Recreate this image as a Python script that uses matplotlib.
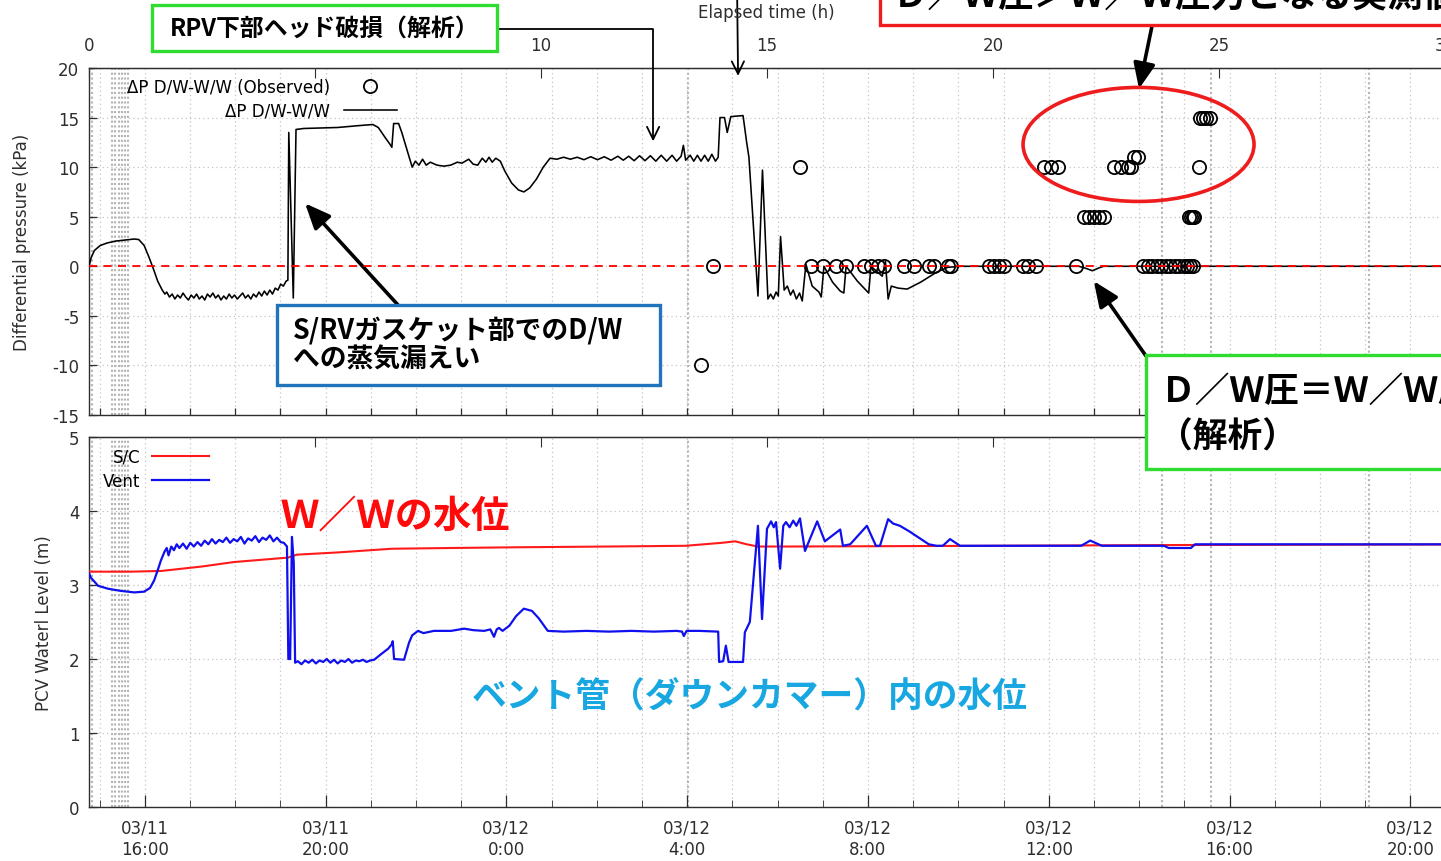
"""Two-panel plot: D/W - W/W differential pressure and PCV water level vs. time."""

import matplotlib

matplotlib.use("Agg")

import matplotlib.pyplot as plt
import numpy as np
from matplotlib.patches import Ellipse, Rectangle

plt.rcParams["axes.unicode_minus"] = False

W_PX, H_PX = 1441, 862
PX_PER_HOUR = 45.2
X_MAX = 32.0
T0_CLOCK = 14 + 46 / 60  # elapsed time origin: 03/11 14:46

JP = ["Noto Sans CJK JP", "DejaVu Sans"]
INK = "#2e2e2e"
FS = 12

# ---- data (elapsed hours, value) ----
DP_ANALYSIS = [
    (0.00, 0.0), (0.05, 0.9), (0.12, 1.6), (0.25, 2.1), (0.40, 2.35), (0.60, 2.55),
    (0.80, 2.65), (1.00, 2.75), (1.10, 2.70), (1.22, 2.1), (1.32, 1.0), (1.42, -0.2),
    (1.52, -1.5), (1.62, -2.4), (1.68, -2.8), (1.72, -2.6), (1.78, -3.1), (1.84, -2.8),
    (1.90, -3.3), (1.96, -2.9), (2.02, -3.2), (2.08, -2.7), (2.14, -3.1), (2.20, -3.4),
    (2.26, -2.9), (2.32, -3.2), (2.38, -2.8), (2.44, -3.3), (2.50, -3.0), (2.56, -3.4),
    (2.62, -2.8), (2.68, -3.1), (2.74, -2.7), (2.80, -3.2), (2.86, -2.9), (2.92, -3.4),
    (2.98, -3.0), (3.04, -3.3), (3.10, -2.8), (3.16, -3.2), (3.22, -2.9), (3.28, -3.3),
    (3.34, -3.0), (3.40, -2.7), (3.46, -3.2), (3.52, -2.9), (3.58, -3.3), (3.64, -2.8),
    (3.70, -3.1), (3.76, -2.6), (3.82, -3.0), (3.88, -2.5), (3.94, -2.9), (4.00, -2.4),
    (4.06, -2.8), (4.12, -2.2), (4.18, -2.4), (4.24, -1.8), (4.30, -2.0), (4.36, -1.5),
    (4.40, -1.4), (4.42, 13.5), (4.52, -3.2), (4.58, 13.8), (4.75, 13.9), (5.50, 14.0),
    (6.00, 14.2), (6.28, 14.3), (6.40, 14.0), (6.55, 13.0), (6.66, 12.3), (6.70, 12.0),
    (6.74, 14.4), (6.85, 14.4), (6.92, 13.5), (7.05, 11.5), (7.15, 10.0), (7.22, 10.6),
    (7.30, 10.2), (7.38, 10.8), (7.46, 10.2), (7.55, 10.5), (7.70, 10.2), (7.85, 10.1),
    (8.00, 10.2), (8.15, 10.5), (8.25, 10.4), (8.40, 10.8), (8.50, 10.3), (8.60, 10.2),
    (8.70, 10.9), (8.78, 10.5), (8.85, 11.0), (8.92, 10.5), (9.00, 10.9), (9.10, 10.6),
    (9.20, 9.6), (9.35, 8.4), (9.50, 7.7), (9.62, 7.5), (9.75, 7.9), (9.90, 8.8),
    (10.05, 10.0), (10.20, 10.9), (10.35, 10.8), (10.50, 11.0), (10.65, 10.8),
    (10.80, 11.0), (10.95, 10.75), (11.10, 11.05), (11.25, 10.75), (11.40, 11.05),
    (11.55, 10.7), (11.70, 11.1), (11.82, 10.7), (11.94, 11.1), (12.06, 10.65),
    (12.18, 11.15), (12.30, 10.65), (12.42, 11.15), (12.54, 10.6), (12.66, 11.2),
    (12.78, 10.6), (12.90, 11.2), (13.00, 10.6), (13.10, 11.1), (13.15, 12.2),
    (13.20, 10.7), (13.30, 11.2), (13.38, 10.6), (13.46, 11.2), (13.54, 10.6),
    (13.62, 11.2), (13.70, 10.6), (13.78, 11.3), (13.86, 10.6), (13.92, 11.0),
    (13.96, 15.0), (14.06, 15.0), (14.12, 13.5), (14.20, 15.1), (14.47, 15.2),
    (14.55, 12.5), (14.60, 11.0), (14.70, 4.0), (14.80, -3.0), (14.90, 9.7),
    (15.02, -3.3), (15.08, -2.8), (15.14, -3.3), (15.20, -2.6), (15.25, -3.0),
    (15.30, 3.0), (15.38, -2.4), (15.45, -2.0), (15.52, -2.9), (15.58, -2.4),
    (15.65, -3.3), (15.72, -2.7), (15.78, -3.5), (15.86, 0.2), (16.00, -2.0),
    (16.15, -2.6), (16.20, -3.1), (16.26, 0.0), (16.45, -1.6), (16.62, -2.5),
    (16.70, -2.7), (16.75, 0.0), (17.00, -1.5), (17.25, -2.7), (17.30, 0.0),
    (17.55, -1.0), (17.62, 0.5), (17.68, -3.3), (17.75, -2.0), (17.90, -2.2),
    (18.10, -2.3), (18.40, -1.6), (18.75, -0.6), (19.00, -0.1), (19.30, 0.0),
    (21.90, 0.0), (22.05, -0.2), (22.20, -0.45), (22.35, -0.15), (22.45, 0.0),
    (32.00, 0.0),
]

OBS_HOURS = [
    13.54, 13.81, 15.73, 15.97, 16.24, 16.53, 16.75, 17.15, 17.30, 17.46, 17.59,
    18.03, 18.25, 18.58, 18.69, 19.00, 19.07, 19.91, 20.02, 20.13, 20.24, 20.66,
    20.77, 20.95, 21.13, 21.28, 21.44, 21.84, 22.01, 22.12, 22.23, 22.35, 22.46,
    22.68, 22.83, 22.99, 23.05, 23.12, 23.21, 23.32, 23.42, 23.52, 23.62, 23.72,
    23.82, 23.92, 24.02, 24.12, 24.22, 24.30, 24.36, 24.42, 24.33, 24.38, 24.42,
    24.45, 24.56, 24.58, 24.65, 24.72, 24.80,
]
OBS_KPA = [
    -10, 0, 10, 0, 0, 0, 0, 0, 0, 0, 0,
    0, 0, 0, 0, 0, 0, 0, 0, 0, 0, 0,
    0, 0, 10, 10, 10, 0, 5, 5, 5, 5, 5,
    10, 10, 10, 10, 11, 11, 0, 0, 0, 0, 0,
    0, 0, 0, 0, 0, 0, 0, 0, 5, 5, 5,
    5, 10, 15, 15, 15, 15,
]

SC_LEVEL = [
    (0.0, 3.18), (0.9, 3.18), (1.6, 3.19), (2.5, 3.25), (3.2, 3.31), (4.0, 3.35),
    (4.4, 3.37), (4.6, 3.41), (5.5, 3.44), (6.7, 3.49), (8.0, 3.50), (9.5, 3.51),
    (11.5, 3.52), (13.2, 3.53), (13.6, 3.55), (14.0, 3.57), (14.3, 3.59),
    (14.55, 3.55), (14.8, 3.52), (15.5, 3.52), (20.0, 3.53), (24.0, 3.54), (32.0, 3.55),
]

VENT_LEVEL = [
    (0.00, 3.16), (0.04, 3.10), (0.20, 2.99), (0.42, 2.95), (0.71, 2.92), (1.00, 2.90),
    (1.22, 2.91), (1.35, 2.96), (1.44, 3.06), (1.52, 3.20), (1.59, 3.33), (1.67, 3.45),
    (1.72, 3.50), (1.76, 3.40), (1.82, 3.52), (1.88, 3.47), (1.94, 3.55), (2.00, 3.50),
    (2.08, 3.56), (2.16, 3.49), (2.24, 3.57), (2.32, 3.52), (2.40, 3.58), (2.48, 3.53),
    (2.56, 3.60), (2.64, 3.55), (2.72, 3.62), (2.80, 3.56), (2.88, 3.61), (2.96, 3.58),
    (3.04, 3.64), (3.12, 3.57), (3.20, 3.62), (3.28, 3.59), (3.36, 3.65), (3.44, 3.56),
    (3.52, 3.63), (3.60, 3.60), (3.68, 3.66), (3.76, 3.58), (3.84, 3.64), (3.92, 3.61),
    (4.00, 3.67), (4.08, 3.59), (4.16, 3.64), (4.24, 3.58), (4.31, 3.57), (4.38, 3.52),
    (4.41, 2.00), (4.45, 2.00), (4.49, 3.65), (4.53, 3.30), (4.56, 1.95), (4.62, 1.97),
    (4.70, 1.93), (4.78, 1.98), (4.86, 1.95), (4.94, 1.99), (5.02, 1.94), (5.10, 1.98),
    (5.18, 1.96), (5.26, 2.00), (5.34, 1.95), (5.42, 1.99), (5.50, 1.94), (5.58, 1.98),
    (5.66, 1.96), (5.74, 2.00), (5.82, 1.95), (5.90, 1.98), (5.98, 1.97), (6.06, 1.99),
    (6.14, 1.96), (6.22, 1.98), (6.31, 1.99), (6.45, 2.06), (6.62, 2.14), (6.70, 2.20),
    (6.72, 2.24), (6.75, 2.00), (6.97, 1.99), (7.08, 2.22), (7.15, 2.32), (7.28, 2.38),
    (7.40, 2.35), (7.63, 2.38), (8.01, 2.38), (8.30, 2.41), (8.50, 2.39), (8.74, 2.38),
    (8.88, 2.40), (8.96, 2.30), (9.02, 2.40), (9.07, 2.42), (9.15, 2.38), (9.30, 2.45),
    (9.45, 2.58), (9.62, 2.68), (9.80, 2.65), (9.95, 2.55), (10.15, 2.38), (10.5, 2.37),
    (11.0, 2.38), (11.5, 2.37), (12.0, 2.38), (12.5, 2.37), (13.0, 2.38), (13.12, 2.37),
    (13.16, 2.31), (13.22, 2.38), (13.5, 2.38), (13.92, 2.37), (13.94, 1.96),
    (14.03, 1.97), (14.09, 2.18), (14.15, 1.96), (14.47, 1.96), (14.51, 2.36),
    (14.62, 2.50), (14.80, 3.80), (14.89, 2.54), (15.00, 3.76), (15.09, 3.86),
    (15.15, 3.78), (15.20, 3.85), (15.29, 3.22), (15.36, 3.80), (15.42, 3.85),
    (15.50, 3.78), (15.58, 3.87), (15.65, 3.80), (15.73, 3.90), (15.84, 3.46),
    (16.11, 3.86), (16.28, 3.59), (16.62, 3.75), (16.68, 3.53), (16.84, 3.55),
    (17.21, 3.80), (17.41, 3.53), (17.50, 3.53), (17.68, 3.89), (17.79, 3.83),
    (17.94, 3.80), (18.16, 3.72), (18.58, 3.55), (18.75, 3.53), (18.89, 3.53),
    (19.05, 3.62), (19.27, 3.53), (21.95, 3.53), (22.15, 3.60), (22.41, 3.53),
    (23.78, 3.53), (23.89, 3.50), (24.38, 3.50), (24.47, 3.55), (32.0, 3.55),
]

# vertical event markers (elapsed hours)
EVENT_HOURS = [0.07, 0.51, 0.58, 0.66, 0.73, 0.80, 0.86, 13.25, 23.74, 24.82, 28.32]

ELAPSED_TICKS = [0, 5, 10, 15, 20, 25, 30]
DATE_CLOCK = [16, 20, 24, 28, 32, 36, 40, 44]
DATE_LABELS = ["03/11\n16:00", "03/11\n20:00", "03/12\n0:00", "03/12\n4:00",
               "03/12\n8:00", "03/12\n12:00", "03/12\n16:00", "03/12\n20:00"]


def fx(x):
    return x / W_PX


def fy(y):
    return 1 - y / H_PX


def style_axes(ax):
    for side in ("left", "top", "bottom"):
        ax.spines[side].set_color(INK)
        ax.spines[side].set_linewidth(1.0)
    ax.spines["right"].set_visible(False)
    ax.tick_params(direction="in", colors=INK, labelsize=FS, width=0.9)
    ax.tick_params(axis="y", length=6, pad=7)
    for h in EVENT_HOURS:
        ax.axvline(h, color="#b4b4b4", lw=1.5, ls=(0, (1, 1.3)), zorder=1)


def main():
    dp = np.array(DP_ANALYSIS)
    sc = np.array(SC_LEVEL)
    vent = np.array(VENT_LEVEL)
    hour_ticks = np.arange(15, 47) - T0_CLOCK
    date_ticks = np.array(DATE_CLOCK) - T0_CLOCK

    fig = plt.figure(figsize=(W_PX / 100, H_PX / 100), dpi=100)
    width = X_MAX * PX_PER_HOUR / W_PX
    ax1 = fig.add_axes([fx(89), fy(416), width, (416 - 69) / H_PX])
    ax2 = fig.add_axes([fx(89), fy(808), width, (808 - 438) / H_PX])

    grid_kw = dict(color="#c4c4c4", lw=0.9, ls=(0, (1, 2.5)))

    # ---- upper panel: differential pressure ----
    style_axes(ax1)
    ax1.set_xlim(0, X_MAX)
    ax1.set_ylim(-15, 20)
    ax1.set_yticks(range(-15, 21, 5))
    ax1.set_xticks(hour_ticks)
    ax1.tick_params(axis="x", labelbottom=False, length=5)
    ax1.grid(True, **grid_kw)

    ax1.plot(dp[:, 0], dp[:, 1], color="black", lw=1.15, zorder=3,
             label="ΔP D/W-W/W")
    ax1.plot(OBS_HOURS, OBS_KPA, ls="none", marker="o", ms=9.5, mfc="none",
             mec="black", mew=1.3, zorder=4, label="ΔP D/W-W/W (Observed)")
    ax1.axhline(0, color="red", lw=1.3, ls=(0, (4.5, 3.5)), zorder=5)

    sec1 = ax1.secondary_xaxis("top")
    sec1.set_xticks(ELAPSED_TICKS)
    sec1.tick_params(direction="in", length=7, pad=10, colors=INK, labelsize=FS)
    sec1.spines["top"].set_color(INK)

    handles, labels = ax1.get_legend_handles_labels()
    ax1.legend(handles[::-1], labels[::-1], loc="upper right", markerfirst=False,
               frameon=False, fontsize=FS, handlelength=3.2, handletextpad=0.8,
               labelspacing=0.35, borderpad=0, borderaxespad=0,
               bbox_to_anchor=(fx(397), fy(79)), bbox_transform=fig.transFigure)

    ax1.add_patch(Ellipse((23.22, 12.29), 5.11, 11.5, fill=False,
                          edgecolor="#ee1c1c", lw=2.6, zorder=6))

    # ---- lower panel: water levels ----
    style_axes(ax2)
    ax2.set_xlim(0, X_MAX)
    ax2.set_ylim(0, 5)
    ax2.set_yticks(range(0, 6))
    ax2.set_xticks(date_ticks)
    ax2.set_xticklabels(DATE_LABELS, linespacing=1.3)
    ax2.set_xticks(hour_ticks, minor=True)
    ax2.tick_params(axis="x", which="major", length=9, pad=8)
    ax2.tick_params(axis="x", which="minor", length=5, direction="in", colors=INK)
    ax2.grid(True, which="major", **grid_kw)
    ax2.grid(True, which="minor", axis="x", **grid_kw)

    ax2.plot(sc[:, 0], sc[:, 1], color="#ff1a1a", lw=1.5, zorder=3, label="S/C")
    ax2.plot(vent[:, 0], vent[:, 1], color="#1010ee", lw=1.6, zorder=4, label="Vent")
    ax2.legend(loc="upper right", markerfirst=False, frameon=False, fontsize=FS,
               handlelength=3.4, handletextpad=0.7, labelspacing=0.35, borderpad=0,
               borderaxespad=0, bbox_to_anchor=(fx(209), fy(449)),
               bbox_transform=fig.transFigure)

    sec2 = ax2.secondary_xaxis("top")
    sec2.set_xticks(ELAPSED_TICKS)
    sec2.set_xticklabels([""] * len(ELAPSED_TICKS))
    sec2.tick_params(direction="in", length=7, colors=INK)
    sec2.spines["top"].set_color(INK)

    # ---- axis titles ----
    fig.text(fx(766), fy(13), "Elapsed time (h)", ha="center", va="center",
             fontsize=FS, color=INK)
    fig.text(fx(22), fy(242), "Differential pressure (kPa)", rotation=90,
             ha="center", va="center", fontsize=FS, color=INK)
    fig.text(fx(44), fy(623), "PCV Waterl Level (m)", rotation=90,
             ha="center", va="center", fontsize=FS, color=INK)

    # ---- callout boxes ----
    def box(x0, y0, x1, y1, color):
        fig.add_artist(Rectangle((fx(x0), fy(y1)), fx(x1) - fx(x0), fy(y0) - fy(y1),
                                 transform=fig.transFigure, facecolor="white",
                                 edgecolor=color, lw=2.4, zorder=5))

    def jp_text(x, y, s, size, color="black"):
        fig.text(fx(x), fy(y), s, ha="left", va="center", fontsize=size,
                 fontweight="bold", family=JP, color=color, zorder=6)

    green = "#2fdc2f"
    box(152, 6, 497, 52, green)
    jp_text(170, 29, "RPV下部ヘッド破損（解析）", 17.2)

    box(880, -60, 1470, 26, "#ee1c1c")
    jp_text(893, -4, "Ｄ／Ｗ圧＞Ｗ／Ｗ圧力となる実測値", 25.5)

    box(277, 306, 660, 386, "#1f74bb")
    jp_text(293, 331, "S/RVガスケット部でのD/W", 19.3)
    jp_text(293, 359, "への蒸気漏えい", 19.3)

    box(1146, 356, 1470, 470, green)
    jp_text(1161, 391, "Ｄ／Ｗ圧＝Ｗ／Ｗ圧", 25)
    jp_text(1158, 437, "（解析）", 25)

    jp_text(281, 517, "Ｗ／Ｗの水位", 27.5, color="#ff0a0a")
    jp_text(472, 697, "ベント管（ダウンカマー）内の水位", 25, color="#18a7e0")

    # ---- arrows ----
    thin = dict(arrowstyle="->,head_length=0.45,head_width=0.22", color="black",
                lw=1.3, shrinkA=0, shrinkB=0, mutation_scale=20)
    thick = dict(arrowstyle="-|>,head_length=0.7,head_width=0.3", color="black",
                 lw=2.6, shrinkA=0, shrinkB=0, mutation_scale=22)

    ax1.annotate("", xy=(12.48, 12.6), xytext=(fx(497), fy(30)),
                 textcoords="figure fraction", annotation_clip=False,
                 arrowprops=dict(thin, connectionstyle="angle,angleA=0,angleB=90,rad=0"))
    ax1.annotate("", xy=(14.36, 19.2), xytext=(fx(737), 1.02),
                 textcoords="figure fraction", annotation_clip=False, arrowprops=thin)
    ax1.annotate("", xy=(23.23, 17.9), xytext=(fx(1152), fy(27)),
                 textcoords="figure fraction", annotation_clip=False, arrowprops=thick)
    ax1.annotate("", xy=(4.78, 6.35), xytext=(fx(398), fy(306)),
                 textcoords="figure fraction", annotation_clip=False, arrowprops=thick)
    ax1.annotate("", xy=(22.23, -1.5), xytext=(fx(1146), fy(357)),
                 textcoords="figure fraction", annotation_clip=False, arrowprops=thick)

    fig.savefig("out.png", dpi=100)
    plt.close(fig)


if __name__ == "__main__":
    main()
